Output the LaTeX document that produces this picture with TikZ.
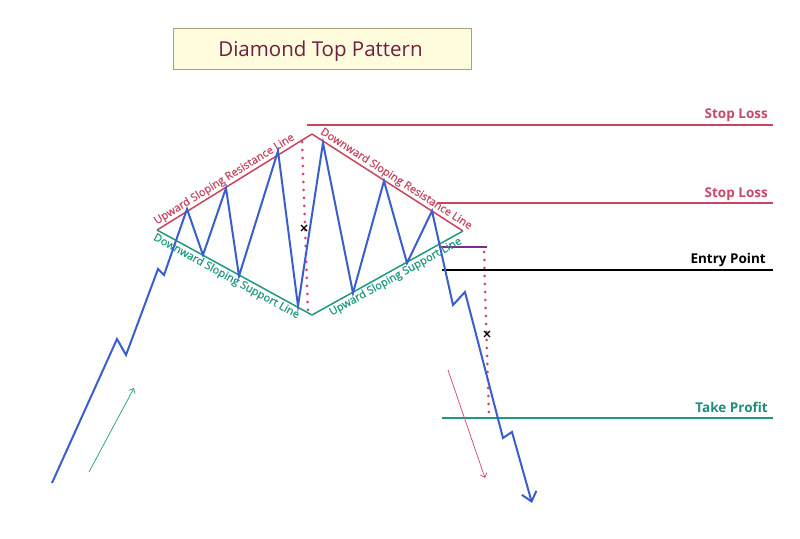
\documentclass[tikz,border=0pt]{standalone}
\usepackage{fontspec}
\setmainfont{Open Sans}
\newfontfamily\slopefont{Open Sans}[FakeBold=0.6]
\usetikzlibrary{arrows.meta}
\definecolor{resred}{HTML}{C8455E}
\definecolor{suptea}{HTML}{1E9A80}
\definecolor{zigblue}{HTML}{3A5FCD}
\definecolor{entpurp}{HTML}{7B2D8E}
\definecolor{dotred}{HTML}{D2456A}
\definecolor{titlefill}{HTML}{FFFBDD}
\definecolor{titleline}{HTML}{A8A080}
\definecolor{titletext}{HTML}{6E1F45}
\definecolor{stoptext}{HTML}{C8486A}
\definecolor{profittext}{HTML}{1F8F7A}
\begin{document}
\begin{tikzpicture}[x=1pt,y=-1pt,
  resline/.style={draw=resred,line width=1.5pt},
  supline/.style={draw=suptea,line width=1.5pt},
  levelline/.style={line width=1.6pt},
  zig/.style={draw=zigblue,line width=2pt,line join=miter},
  dotline/.style={draw=dotred,line width=3pt,dash pattern=on 0pt off 8pt,line cap=round},
  slopelabel/.style={font=\slopefont\fontsize{11}{13}\selectfont,sloped,inner sep=1.2pt},
  levellabel/.style={font=\fontsize{13.5}{15}\selectfont\bfseries,anchor=base east,inner sep=0pt},
  xmark/.style={draw=black,line width=1.2pt},
  trendarrow/.style={line width=0.7pt,-{Straight Barb[length=4pt,width=7pt]}}
]
\useasboundingbox (0,0) rectangle (800,538);
\fill[white] (0,0) rectangle (800,538);

% title
\node[draw=titleline,fill=titlefill,line width=0.8pt,minimum width=298pt,minimum height=41pt,inner sep=0pt] (title) at (322,48.5) {};
\node[font=\fontsize{20.5}{24}\selectfont,text=titletext,anchor=base,inner sep=0pt] (titletxt) at (320.5,56.5) {Diamond Top Pattern};

% diamond key points
\coordinate (L) at (157,230);
\coordinate (T) at (312,134);
\coordinate (R) at (463,231);
\coordinate (B) at (312,315);

% horizontal levels
\coordinate (sl1a) at (307,125);  \coordinate (sl1b) at (773,125);
\coordinate (sl2a) at (438,203);  \coordinate (sl2b) at (773,203);
\coordinate (pua) at (440,247);   \coordinate (pub) at (487,247);
\coordinate (ena) at (442,270);   \coordinate (enb) at (773,270);
\coordinate (tpa) at (442,418);   \coordinate (tpb) at (773,418);
\draw[levelline,draw=resred] (sl1a) -- (sl1b);
\draw[levelline,draw=resred] (sl2a) -- (sl2b);
\draw[levelline,draw=entpurp] (pua) -- (pub);
\draw[levelline,draw=black] (ena) -- (enb);
\draw[levelline,draw=suptea] (tpa) -- (tpb);

\node[levellabel,text=stoptext] (sltext1) at (768,118) {Stop Loss};
\node[levellabel,text=stoptext] (sltext2) at (768,197) {Stop Loss};
\node[levellabel,text=black] (entext) at (766,263) {Entry Point};
\node[levellabel,text=profittext] (tptext) at (768,412) {Take Profit};

% diamond sides with labels
\draw[resline] (L) -- node[slopelabel,above,pos=0.46,text=resred] (lab1) {Upward Sloping Resistance Line} (T);
\draw[resline] (T) -- node[slopelabel,above,pos=0.53,text=resred] (lab2) {Downward Sloping Resistance Line} (R);
\draw[supline] (L) -- node[slopelabel,below,pos=0.47,text=suptea] (lab3) {Downward Sloping Support Line} (B);
\draw[supline] (B) -- node[slopelabel,below,pos=0.53,text=suptea] (lab4) {Upward Sloping Support Line} (R);

% dotted measure lines
\coordinate (d1a) at (302,142); \coordinate (d1b) at (308,312);
\coordinate (d2a) at (484,252); \coordinate (d2b) at (489,416);
\draw[dotline] (d1a) -- (d1b);
\draw[dotline] (d2a) -- (d2b);

% price zigzag
\coordinate (zs) at (52,483);
\coordinate (ze) at (532,503);
\draw[zig,-{Straight Barb[length=9pt,width=15pt,line width=2pt]}] (zs) -- (117,339) -- (126,355) -- (158,269) -- (164,275) -- (187,209)
  -- (203,255) -- (226,188) -- (239,276) -- (278,151) -- (298,306) -- (323,143)
  -- (353,293) -- (384,181) -- (407,263) -- (432,211) -- (453,305) -- (465,292)
  -- (503,438) -- (512,432) -- (ze);

% x marks
\coordinate (x1) at (304,228);
\coordinate (x2) at (487,334);
\draw[xmark] ([shift={(-3,-3)}]x1) -- ([shift={(3,3)}]x1);
\draw[xmark] ([shift={(-3,3)}]x1) -- ([shift={(3,-3)}]x1);
\draw[xmark] ([shift={(-3,-3)}]x2) -- ([shift={(3,3)}]x2);
\draw[xmark] ([shift={(-3,3)}]x2) -- ([shift={(3,-3)}]x2);

% trend arrows
\coordinate (ga) at (89,472); \coordinate (gb) at (134,388);
\coordinate (ra) at (448,370); \coordinate (rb) at (485,478);
\draw[trendarrow,draw=suptea] (ga) -- (gb);
\draw[trendarrow,draw=dotred] (ra) -- (rb);
\end{tikzpicture}
\end{document}
